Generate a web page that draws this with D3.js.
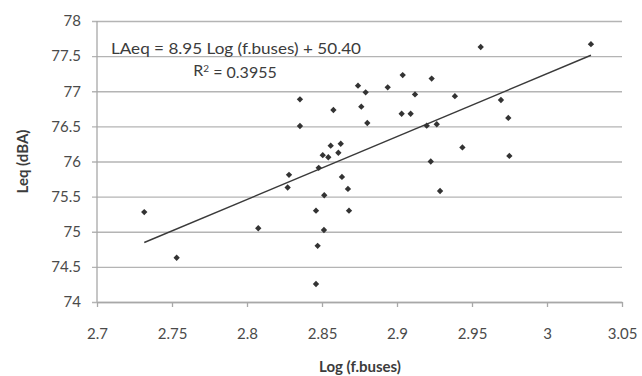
<!DOCTYPE html>
<html>
<head>
<meta charset="utf-8">
<style>
body { margin: 0; background: #fff; }
svg text { font-family: Lato, "Open Sans", sans-serif; fill: #4a4a4a; }
.axis-title { font-weight: bold; font-size: 15px; fill: #3c3c3c; }
.tick-label { font-size: 15px; }
.eq { font-size: 16px; fill: #3c3c3c; }
</style>
</head>
<body>
<svg id="chart" width="642" height="376"></svg>
<script src="https://d3js.org/d3.v7.min.js"></script>
<script>

// log of bus flow vs measured Leq
var logBuses = [2.7315, 2.7531, 2.8075, 2.8271, 2.828, 2.8353, 2.8353, 2.846, 2.8471, 2.846,
  2.8478, 2.8505, 2.8513, 2.8515, 2.8542, 2.8558, 2.8576, 2.8609, 2.8625, 2.8633,
  2.8673, 2.868, 2.874, 2.8762, 2.8791, 2.8802, 2.8938, 2.9031, 2.9038, 2.9091,
  2.912, 2.9198, 2.9225, 2.9231, 2.9265, 2.9287, 2.9386, 2.9436, 2.9558, 2.9693,
  2.9742, 2.9749, 3.0293];
var leq = [75.28, 74.63, 75.05, 75.63, 75.81, 76.885, 76.505, 75.30, 74.80, 74.256,
  75.91, 76.09, 75.025, 75.52, 76.06, 76.225, 76.733, 76.125, 76.253, 75.78,
  75.61, 75.30, 77.08, 76.78, 76.985, 76.548, 77.056, 76.68, 77.23, 76.68,
  76.955, 76.51, 76.00, 77.18, 76.53, 75.58, 76.93, 76.20, 77.63, 76.875,
  76.62, 76.08, 77.67];

var xTicks = [2.7, 2.75, 2.8, 2.85, 2.9, 2.95, 3, 3.05];
var yTicks = [74, 74.5, 75, 75.5, 76, 76.5, 77, 77.5, 78];

var slope = 8.95, intercept = 50.40;

var svg = d3.select("#chart"),
  margin = { top: 21, right: 20, bottom: 74, left: 97 },
  width = +svg.attr("width") - margin.left - margin.right,
  height = +svg.attr("height") - margin.top - margin.bottom;

var x = d3.scaleLinear().domain([2.7, 3.05]).range([0, width]);
var y = d3.scaleLinear().domain([74, 78]).range([height, 0]);

var g = svg.append("g")
  .attr("transform", "translate(" + margin.left + "," + margin.top + ")");

// horizontal gridlines (also the little ticks left of the axis)
g.append("g")
  .attr("class", "grid")
  .call(d3.axisLeft(y).tickValues(yTicks).tickSize(-width).tickFormat("").tickSizeOuter(0))
  .call(function(s) {
    s.select(".domain").remove();
    s.selectAll("line").attr("x1", -5).attr("stroke", "#b4b4b4").attr("stroke-width", 1.3);
  });

// y axis line
g.append("line")
  .attr("x1", 0).attr("x2", 0).attr("y1", 0).attr("y2", height)
  .attr("stroke", "#a8a8a8").attr("stroke-width", 1.3);

// x axis
var xAxis = g.append("g")
  .attr("transform", "translate(0," + height + ")")
  .call(d3.axisBottom(x).tickValues(xTicks).tickSize(5).tickSizeOuter(0).tickFormat(d3.format("")));
xAxis.select(".domain").attr("stroke", "#a8a8a8").attr("stroke-width", 1.3);
xAxis.selectAll("line").attr("stroke", "#a8a8a8").attr("stroke-width", 1.3);
xAxis.selectAll("text").attr("class", "tick-label").attr("dy", "1.9em").attr("fill", null);

// y tick labels
g.append("g")
  .selectAll("text")
  .data(yTicks)
  .enter().append("text")
  .attr("class", "tick-label")
  .attr("x", -16)
  .attr("y", function(d) { return y(d); })
  .attr("dy", "0.35em")
  .attr("text-anchor", "end")
  .text(function(d) { return d; });

// trend line
var xMin = d3.min(logBuses), xMax = d3.max(logBuses);
g.append("line")
  .attr("x1", x(xMin)).attr("y1", y(slope * xMin + intercept))
  .attr("x2", x(xMax)).attr("y2", y(slope * xMax + intercept))
  .attr("stroke", "#3a3a3a").attr("stroke-width", 1.4);

// points
var diamond = d3.symbol().type(d3.symbolSquare).size(20);
g.selectAll(".pt")
  .data(logBuses)
  .enter().append("path")
  .attr("class", "pt")
  .attr("d", diamond)
  .attr("fill", "#333")
  .attr("transform", function(d, i) {
    return "translate(" + x(d) + "," + y(leq[i]) + ") rotate(45)";
  });

// equation
g.append("text")
  .attr("class", "eq")
  .attr("x", 139).attr("y", 27)
  .attr("dy", "0.35em")
  .attr("text-anchor", "middle")
  .attr("textLength", 250)
  .attr("lengthAdjust", "spacingAndGlyphs")
  .text("LAeq = 8.95 Log (f.buses) + 50.40");

var r2 = g.append("text")
  .attr("class", "eq")
  .attr("x", 138).attr("y", 49)
  .attr("dy", "0.35em")
  .attr("text-anchor", "middle");
r2.append("tspan").text("R");
r2.append("tspan").attr("dy", "-0.4em").style("font-size", "10px").text("2");
r2.append("tspan").attr("dy", "0.4em").text(" = 0.3955");

// axis titles
svg.append("text")
  .attr("class", "axis-title")
  .attr("transform", "translate(23," + (margin.top + height / 2) + ") rotate(-90)")
  .attr("text-anchor", "middle")
  .attr("dy", "0.35em")
  .text("Leq (dBA)");

svg.append("text")
  .attr("class", "axis-title")
  .attr("x", 360).attr("y", 372)
  .attr("text-anchor", "middle")
  .text("Log (f.buses)");

</script>
</body>
</html>
